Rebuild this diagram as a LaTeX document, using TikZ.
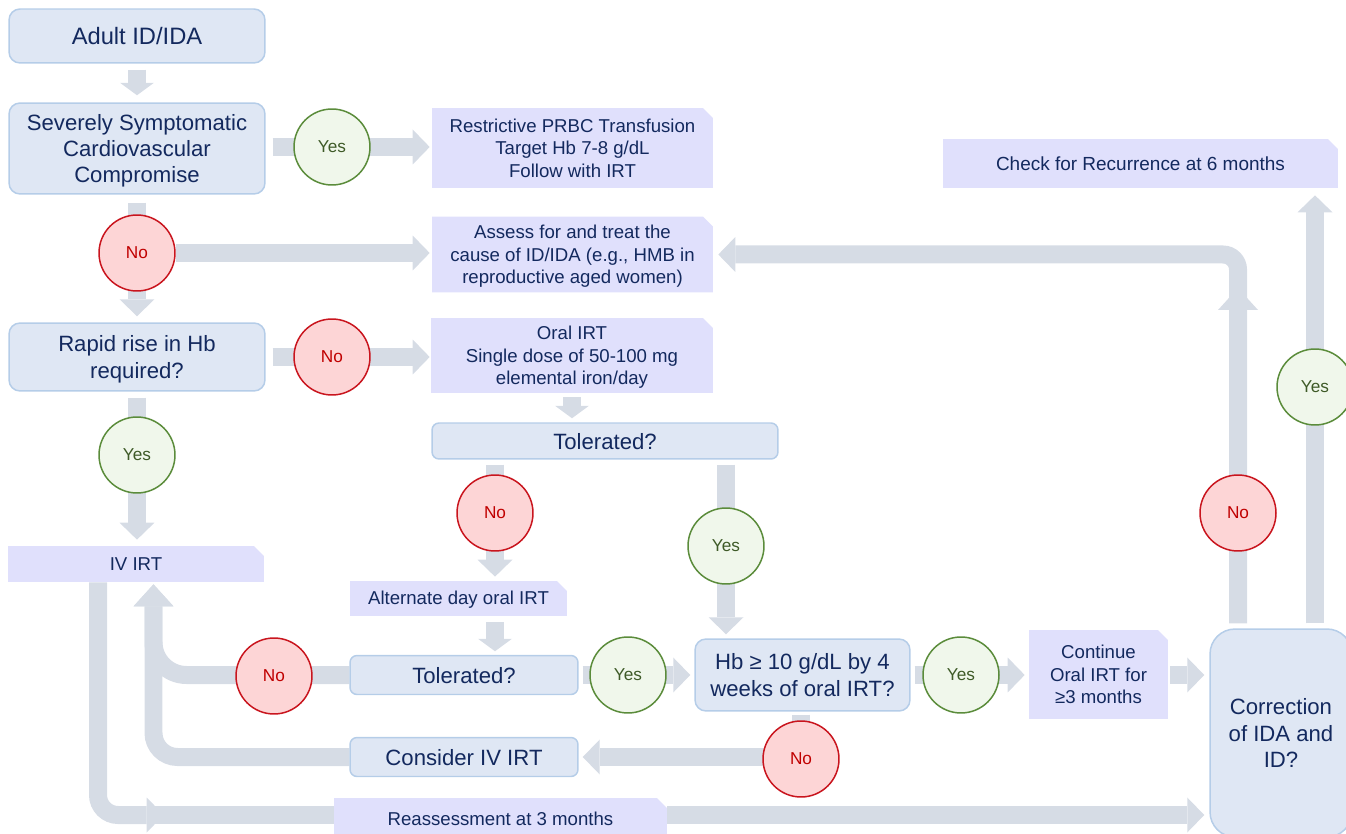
\documentclass[tikz,border=0pt]{standalone}
\usepackage{fontspec}
\setmainfont{Liberation Sans}
\usepackage{xcolor}
\usepackage{tikz}
\usetikzlibrary{arrows.meta,calc}

\definecolor{inkblue}{HTML}{13295E}
\definecolor{boxfill}{HTML}{DFE7F4}
\definecolor{boxline}{HTML}{B5CDE8}
\definecolor{notefill}{HTML}{E0E0FC}
\definecolor{flowgray}{HTML}{D6DCE5}
\definecolor{yesfill}{HTML}{F0F7EB}
\definecolor{yesline}{HTML}{5B8C3B}
\definecolor{yestext}{HTML}{3E5A27}
\definecolor{nofill}{HTML}{FDD5D6}
\definecolor{noline}{HTML}{C9151E}
\definecolor{notext}{HTML}{C00000}

\pgfdeclarelayer{bg}
\pgfsetlayers{bg,main}

\begin{document}
\begin{tikzpicture}[
    x=0.02cm, y=-0.02cm,
    qbox/.style={draw=boxline, fill=boxfill, rounded corners=0.22cm, line width=0.85pt,
                 align=center, inner sep=0pt, text depth=-2pt, text=inkblue,
                 font=\fontsize{12.6}{15}\selectfont},
    note/.style={rectangle, fill=white, align=center, inner sep=0pt, text depth=-3.4pt,
                 text=inkblue, font=\fontsize{10.6}{12.8}\selectfont,
                 path picture={\fill[notefill] (path picture bounding box.south west)
                   |- ([xshift=-0.2cm]path picture bounding box.north east)
                   -- ([yshift=-0.2cm]path picture bounding box.north east)
                   |- (path picture bounding box.south west) -- cycle;}},
    yesc/.style={circle, draw=yesline, fill=yesfill, text=yestext, minimum size=1.52cm,
                 inner sep=0pt, line width=0.85pt, font=\fontsize{9.8}{12}\selectfont},
    noc/.style={circle, draw=noline, fill=nofill, text=notext, minimum size=1.52cm,
                inner sep=0pt, line width=0.85pt, font=\fontsize{9.8}{12}\selectfont},
    bar/.style={draw=flowgray, line width=0.36cm},
    flow/.style={bar, -{Triangle[length=0.34cm, width=0.7cm, line width=0pt]}},
    stub/.style={bar, -{Triangle[length=0.25cm, width=0.68cm, line width=0pt]}},
    bigtip/.style={bar, -{Triangle[length=0.44cm, width=0.8cm, line width=0pt]}}
]
\useasboundingbox (0,0) rectangle (1346,834);

%% Entry column
\node[qbox, minimum width=5.12cm, minimum height=1.08cm,
      font=\fontsize{13.5}{16}\selectfont] (adult) at (137,36) {Adult ID/IDA};
\node[qbox, minimum width=5.12cm, minimum height=1.82cm] (severe) at (137,148.5)
  {Severely Symptomatic\\Cardiovascular\\Compromise};
\node[qbox, minimum width=5.12cm, minimum height=1.36cm] (rapid) at (137,357)
  {Rapid rise in Hb\\required?};
\node[note, minimum width=5.12cm, minimum height=0.72cm, text depth=-1.1pt] (ivirt)
  at (136,564) {IV IRT};

%% Oral branch
\node[note, minimum width=5.62cm, minimum height=1.6cm, text depth=-4.6pt] (prbc)
  at (572.5,148) {Restrictive PRBC Transfusion\\Target Hb 7-8 g/dL\\Follow with IRT};
\node[note, minimum width=5.62cm, minimum height=1.52cm] (cause) at (572.5,254.5)
  {Assess for and treat the\\cause of ID/IDA (e.g., HMB in\\reproductive aged women)};
\node[note, minimum width=5.64cm, minimum height=1.5cm, text depth=-0.6pt] (oral)
  at (572,355.5) {Oral IRT\\Single dose of 50-100 mg\\elemental iron/day};
\node[qbox, minimum width=6.92cm, minimum height=0.72cm, rounded corners=0.14cm] (tol1)
  at (605,441) {Tolerated?};
\node[note, minimum width=4.34cm, minimum height=0.7cm, text depth=0.5pt] (altday)
  at (458.5,598.5) {Alternate day oral IRT};
\node[qbox, minimum width=4.56cm, minimum height=0.78cm, rounded corners=0.14cm] (tol2)
  at (464,675) {Tolerated?};
\node[qbox, minimum width=4.56cm, minimum height=0.78cm, rounded corners=0.14cm] (consider)
  at (464,757) {Consider IV IRT};
\node[note, minimum width=6.66cm, minimum height=0.84cm, text depth=-1pt] (reassess)
  at (500.5,819) {Reassessment at 3 months};

%% Response and follow-up
\node[qbox, minimum width=4.3cm, minimum height=1.44cm] (hbcheck) at (802.5,675)
  {Hb ≥ 10 g/dL by 4\\weeks of oral IRT?};
\node[note, minimum width=2.78cm, minimum height=1.78cm, text depth=-5.1pt] (contin)
  at (1098.5,674.5) {Continue\\Oral IRT for\\≥3 months};
\node[qbox, minimum width=2.84cm, minimum height=4.16cm, rounded corners=0.5cm] (correct)
  at (1281,733) {Correction\\of IDA and\\ID?};
\node[note, minimum width=7.9cm, minimum height=0.98cm,
      font=\fontsize{10.8}{13}\selectfont] (recur) at (1140.5,163.5)
  {Check for Recurrence at 6 months};

%% Decisions
\node[yesc] (y1) at (332,147) {Yes};
\node[noc]  (n1) at (137,253) {No};
\node[noc]  (n2) at (332,357) {No};
\node[yesc] (y2) at (137,455) {Yes};
\node[noc]  (n3) at (495,513) {No};
\node[yesc] (y3) at (726,546) {Yes};
\node[noc]  (n4) at (274,676) {No};
\node[yesc] (y4) at (628,675) {Yes};
\node[yesc] (y5) at (961,675) {Yes};
\node[noc]  (n5) at (801,759) {No};
\node[noc]  (n6) at (1238,513) {No};
\node[yesc] (y6) at (1315,387) {Yes};
\coordinate (nojoin) at (1238,288);

%% Connectors
\begin{pgfonlayer}{bg}
\draw[stub, shorten <=0.12cm, shorten >=0.14cm] (adult) -- (severe);
\draw[flow, shorten <=0.14cm, shorten >=0.04cm] (severe.east |- y1) -- (prbc.west |- y1);
\draw[flow, shorten <=0.16cm, shorten >=0.12cm] (severe) -- (rapid);
\draw[flow, shorten >=0.04cm] (n1) -- (cause.west |- n1);
\draw[flow, shorten <=0.14cm, shorten >=0.02cm] (rapid.east |- n2) -- (oral.west |- n2);
\draw[flow, shorten <=0.12cm, shorten >=0.12cm] (rapid.south) -- (rapid.south |- ivirt.north);
\draw[stub, shorten <=0.08cm, shorten >=0.08cm] (oral.south) -- (oral.south |- tol1.north);
\draw[flow, shorten <=0.1cm, shorten >=0.08cm] (n3 |- tol1.south) -- (n3 |- altday.north);
\draw[flow, shorten <=0.1cm, shorten >=0.08cm] (y3 |- tol1.south) -- (y3 |- hbcheck.north);
\draw[stub, shorten <=0.12cm, shorten >=0.07cm] (n3 |- altday.south) -- (n3 |- tol2.north);
\draw[flow, shorten <=0.08cm, shorten >=0.08cm] (tol2.east) -- (hbcheck.west);
\draw[flow, shorten <=0.08cm, shorten >=0.08cm] (hbcheck.east) -- (contin.west |- hbcheck.east);
\draw[flow, shorten <=0.04cm, shorten >=0.1cm] (contin.east |- hbcheck.east) -- (correct.west |- hbcheck.east);
\draw[flow, shorten <=0.06cm, shorten >=0.08cm] (n5 |- hbcheck.south) |- (consider.east);
\draw[bigtip, rounded corners=0.66cm, shorten >=0.04cm] (tol2.west) -| ([xshift=0.35cm]ivirt.south);
\draw[bigtip, rounded corners=0.48cm, shorten >=0.04cm] (consider.west) -| ([xshift=0.35cm]ivirt.south);
\draw[flow, rounded corners=0.4cm, shorten >=3.4cm] ([xshift=-0.76cm]ivirt.south) |- ([yshift=0.08cm]reassess.west);
\draw[bar] ([xshift=-3.7cm,yshift=0.08cm]reassess.west) -- ([yshift=0.08cm]reassess.west);
\draw[flow, shorten >=0.1cm] ([yshift=0.08cm]reassess.east) -- ([yshift=0.08cm]reassess.east -| correct.west);
\draw[bigtip, shorten <=0.1cm] ([xshift=-0.86cm]correct.north) -- (nojoin);
\draw[flow, rounded corners=0.3cm, shorten >=0.1cm] ([yshift=-0.3cm]nojoin) |- (cause.east);
\draw[flow, shorten <=0.1cm, shorten >=0.14cm] ([xshift=0.68cm]correct.north) -- ([xshift=0.68cm]correct.north |- recur.south);
\end{pgfonlayer}

\end{tikzpicture}
\end{document}
